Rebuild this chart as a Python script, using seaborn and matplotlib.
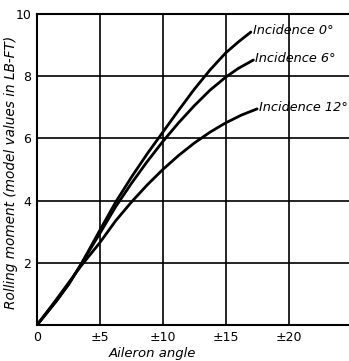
import numpy as np
import pandas as pd
import seaborn as sns
import matplotlib.pyplot as plt

# valores
angulo_0 = [0, 1.5, 2.5, 3.5, 5, 6.25, 7.5, 8.75, 10, 11.25, 12.5, 13.75, 15, 16, 17]
momento_0 = [0, 0.75, 1.3, 1.95, 3.05, 3.95, 4.75, 5.5, 6.2, 6.9, 7.58, 8.2, 8.75, 9.1, 9.42]

angulo_6 = [0, 1.5, 2.5, 3.5, 5, 6.25, 7.5, 8.75, 10, 11.25, 12.5, 13.75, 15, 16, 17.2]
momento_6 = [0, 0.75, 1.3, 1.95, 2.95, 3.8, 4.55, 5.25, 5.9, 6.5, 7.05, 7.55, 7.97, 8.25, 8.52]

angulo_12 = [0, 1.5, 2.5, 3.5, 5, 6.25, 7.5, 8.75, 10, 11.25, 12.5, 13.75, 15, 16.25, 17.5]
momento_12 = [0, 0.8, 1.35, 1.9, 2.65, 3.35, 3.95, 4.5, 5.0, 5.45, 5.85, 6.2, 6.5, 6.75, 6.95]

incidencias = ["Incidence 0°", "Incidence 6°", "Incidence 12°"]

xticks = [0, 5, 10, 15, 20]
xtick_labels = ["0", "±5", "±10", "±15", "±20"]
yticks = [0, 2, 4, 6, 8, 10]
ytick_labels = ["", "2", "4", "6", "8", "10"]

df = pd.concat([
    pd.DataFrame({"angulo": angulo_0, "momento": momento_0, "serie": incidencias[0]}),
    pd.DataFrame({"angulo": angulo_6, "momento": momento_6, "serie": incidencias[1]}),
    pd.DataFrame({"angulo": angulo_12, "momento": momento_12, "serie": incidencias[2]}),
])

sns.set_style("white")
plt.rcParams["font.family"] = ["DejaVu Sans"]
plt.rcParams["text.color"] = "black"
plt.rcParams["axes.labelcolor"] = "black"
plt.rcParams["xtick.color"] = "black"
plt.rcParams["ytick.color"] = "black"

fig = plt.figure(figsize=(3.49, 3.61), dpi=100)
ax = fig.add_axes([37 / 349, 1 - 325 / 361, 312 / 349, 311 / 361])

sns.lineplot(data=df, x="angulo", y="momento", hue="serie", sort=False,
             palette=["black"] * 3, linewidth=2.0, legend=False, ax=ax)

# etiquetas de cada curva
for serie, xs, ys in [(incidencias[0], angulo_0, momento_0),
                      (incidencias[1], angulo_6, momento_6),
                      (incidencias[2], angulo_12, momento_12)]:
    ax.text(xs[-1] + 0.15, ys[-1] + 0.05, serie, fontsize=9.3, fontstyle="italic",
            ha="left", va="center", color="black")

ax.set_xlim(0, 24.8)
ax.set_ylim(0, 10)
ax.set_xticks(xticks)
ax.set_xticklabels(xtick_labels, fontsize=9)
ax.set_yticks(yticks)
ax.set_yticklabels(ytick_labels, fontsize=9)
ax.tick_params(length=0, pad=4, colors="black")

ax.grid(True, color="black", linewidth=1.2)
for lado in ["left", "bottom", "top"]:
    ax.spines[lado].set_color("black")
    ax.spines[lado].set_linewidth(1.5)
ax.spines["right"].set_visible(False)

ax.set_xlabel("Aileron angle", fontsize=9.5, fontstyle="italic", color="black")
ax.xaxis.set_label_coords(0.37, -0.072)
ax.set_ylabel("Rolling moment (model values in LB-FT)", fontsize=9.8, fontstyle="italic",
              color="black")
ax.yaxis.set_label_coords(-0.062, 0.49)

fig.savefig("out.png", dpi=100)
